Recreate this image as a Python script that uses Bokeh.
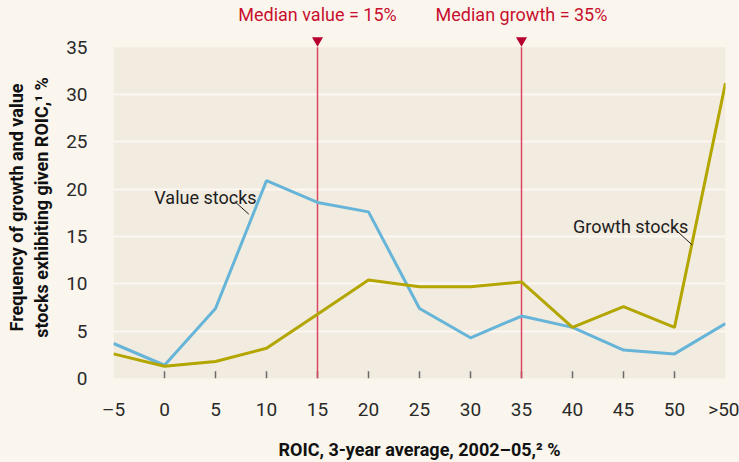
from bokeh.plotting import figure
from bokeh.models import Range1d, FixedTicker, Label, BoxAnnotation, LinearAxis
from bokeh.embed import file_html
from bokeh.resources import INLINE

# ---------------- data ----------------
categories = ["–5", "0", "5", "10", "15", "20", "25", "30", "35", "40", "45", "50", ">50"]
value_stocks = [3.7, 1.4, 7.4, 20.9, 18.6, 17.6, 7.4, 4.3, 6.6, 5.4, 3.0, 2.6, 5.8]
growth_stocks = [2.6, 1.3, 1.8, 3.2, 6.8, 10.4, 9.7, 9.7, 10.2, 5.4, 7.6, 5.4, 31.2]
median_categories = ["15", "35"]
median_labels = ["Median value = 15%", "Median growth = 35%"]
y_max = 35
y_ticks = [0, 5, 10, 15, 20, 25, 30, 35]
grid_ticks = [5, 10, 15, 20, 25, 30]

FONT = "Roboto"
OUTER = "#faf6ee"
INNER = "#f2ebe0"
RED_TXT = "#c8102e"
RED_LINE = "#d9475f"
RED_TRI = "#b8002e"
BLUE = "#66b5d8"
OLIVE = "#b3a600"
INK = "#1e1e1e"

W, H = 739, 462
LEFT, RIGHT, TOP, BOTTOM = 113, 14, 33, 77
frame_h = H - TOP - BOTTOM
plot_h = 341  # pixel height of the 0..35 area
y_end = y_max * frame_h / plot_h

idx = list(range(len(categories)))

p = figure(width=W, height=H,
           x_range=Range1d(0, len(categories) - 1), y_range=Range1d(0, y_end),
           output_backend="svg", toolbar_location=None,
           min_border_left=LEFT, min_border_right=RIGHT,
           min_border_top=TOP, min_border_bottom=BOTTOM,
           background_fill_color=OUTER, border_fill_color=OUTER, outline_line_color=None)

# beige plotting area 0..35
p.add_layout(BoxAnnotation(bottom=0, top=y_max, fill_color=INNER, fill_alpha=1.0,
                           line_color=None, level="image"))

# axes
p.xaxis.ticker = FixedTicker(ticks=idx)
p.xaxis.major_label_overrides = {i: c for i, c in enumerate(categories)}
p.yaxis.ticker = FixedTicker(ticks=y_ticks)
for ax in (p.xaxis, p.yaxis):
    ax.axis_line_color = None
    ax.major_tick_line_color = None
    ax.minor_tick_line_color = None
    ax.major_label_text_font = FONT
    ax.major_label_text_font_size = "19px"
    ax.major_label_text_color = "#2a2a2a"
    ax.axis_label_text_font = FONT
    ax.axis_label_text_font_style = "bold"
    ax.axis_label_text_font_size = "18px"
    ax.axis_label_text_color = "#111111"
p.xaxis.major_label_standoff = 13
p.yaxis.major_label_standoff = 20
p.xaxis.axis_label = "ROIC, 3-year average, 2002–05,² %"
p.xaxis.axis_label_standoff = 15
p.yaxis.axis_label = "Frequency of growth and value\nstocks exhibiting given ROIC,¹ %"
p.yaxis.axis_label_standoff = 11

# median labels as a top axis
med_idx = [categories.index(c) for c in median_categories]
top_axis = LinearAxis(ticker=FixedTicker(ticks=med_idx),
                      major_label_overrides={m: t for m, t in zip(med_idx, median_labels)})
top_axis.axis_line_color = None
top_axis.major_tick_line_color = None
top_axis.minor_tick_line_color = None
top_axis.major_label_text_font = FONT
top_axis.major_label_text_font_size = "18px"
top_axis.major_label_text_color = RED_TXT
top_axis.major_label_standoff = 6
p.add_layout(top_axis, "above")

p.xgrid.visible = False
p.ygrid.ticker = FixedTicker(ticks=grid_ticks)
p.ygrid.grid_line_color = "#fbf8f3"
p.ygrid.grid_line_width = 2

# inner tick marks (only interior categories)
inner = idx[1:-1]
p.segment(x0=inner, y0=[0] * len(inner), x1=inner, y1=[0.77] * len(inner),
          line_color="#6a6a6a", line_width=1.5)

# median lines and markers
p.segment(x0=med_idx, y0=[0] * len(med_idx), x1=med_idx, y1=[y_max] * len(med_idx),
          line_color=RED_LINE, line_width=1.5)
p.scatter(med_idx, [y_max + 0.72] * len(med_idx), marker="inverted_triangle", size=11,
          fill_color=RED_TRI, line_color=None)

# series
p.line(idx, value_stocks, line_color=BLUE, line_width=3)
p.line(idx, growth_stocks, line_color=OLIVE, line_width=3)

# series annotations
p.add_layout(Label(x=0.80, y=19.15, text="Value stocks", text_font=FONT,
                   text_font_size="18px", text_color=INK, text_baseline="alphabetic"))
p.segment(x0=[2.378], y0=[18.69], x1=[2.653], y1=[17.36], line_color=INK, line_width=1)
p.add_layout(Label(x=9.01, y=16.05, text="Growth stocks", text_font=FONT,
                   text_font_size="18px", text_color=INK, text_baseline="alphabetic"))
p.segment(x0=[11.053], y0=[15.55], x1=[11.347], y1=[14.11], line_color=INK, line_width=1)

html = file_html(p, INLINE)
html = html.replace("</head>", "<style>body{background:%s;}</style></head>" % OUTER, 1)
open("out.html", "w").write(html)
